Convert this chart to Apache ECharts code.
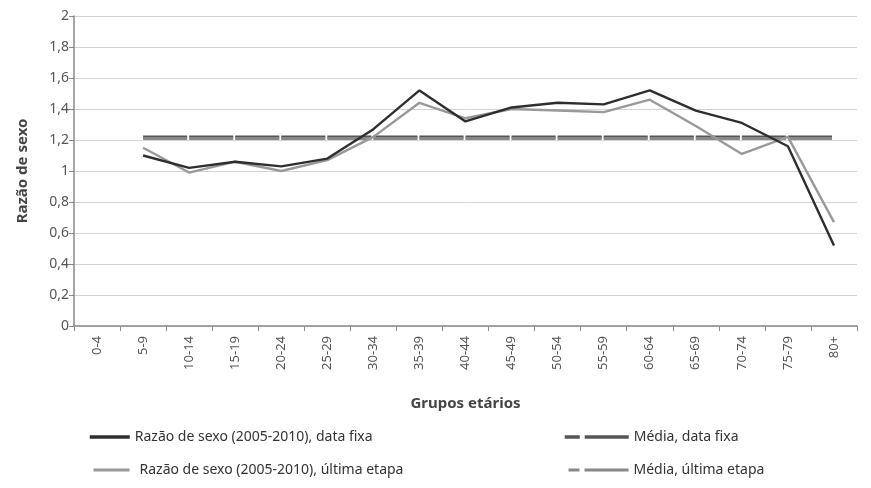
<!DOCTYPE html>
<html>
<head>
<meta charset="utf-8">
<script src="https://cdn.jsdelivr.net/npm/echarts@6/dist/echarts.min.js"></script>
<style>html,body{margin:0;padding:0;background:#fff}#c{width:871px;height:488px}</style>
</head>
<body>
<div id="c"></div>
<script>
var categories = ['0-4','5-9','10-14','15-19','20-24','25-29','30-34','35-39','40-44','45-49','50-54','55-59','60-64','65-69','70-74','75-79','80+'];
var razaoDataFixa = [null, 1.10, 1.02, 1.06, 1.03, 1.08, 1.27, 1.52, 1.32, 1.41, 1.44, 1.43, 1.52, 1.39, 1.31, 1.16, 0.52];
var razaoUltimaEtapa = [null, 1.15, 0.99, 1.06, 1.00, 1.07, 1.22, 1.44, 1.34, 1.40, 1.39, 1.38, 1.46, 1.29, 1.11, 1.22, 0.67];
var mediaDataFixa = [null, 1.22, 1.22, 1.22, 1.22, 1.22, 1.22, 1.22, 1.22, 1.22, 1.22, 1.22, 1.22, 1.22, 1.22, 1.22, 1.22];
var mediaUltimaEtapa = [null, 1.21, 1.21, 1.21, 1.21, 1.21, 1.21, 1.21, 1.21, 1.21, 1.21, 1.21, 1.21, 1.21, 1.21, 1.21, 1.21];
var yTicks = { min: 0, max: 2, interval: 0.2 };

var FONT = '"Noto Sans", "Open Sans", sans-serif';
var names = ['Razão de sexo (2005-2010), data fixa', 'Média, data fixa', 'Razão de sexo (2005-2010), última etapa', 'Média, última etapa'];

var chart = echarts.init(document.getElementById('c'), null, {renderer: 'canvas'});
var legText = {color: '#333', fontSize: 14, fontFamily: FONT};
var legBase = {padding: 0, itemHeight: 14, itemStyle: {opacity: 0, borderWidth: 0}, textStyle: legText};
function leg(extra) { return Object.assign({}, legBase, extra); }
chart.setOption({
  animation: false,
  backgroundColor: '#fff',
  grid: {left: 74, right: 14, top: 16, bottom: 162, containLabel: false},
  xAxis: {
    type: 'category',
    data: categories,
    boundaryGap: true,
    name: 'Grupos etários',
    nameLocation: 'middle',
    nameGap: 70,
    nameTextStyle: {fontFamily: FONT, fontSize: 15, fontWeight: 'bold', color: '#444'},
    axisLine: {lineStyle: {color: '#8a8a8a', width: 1.5}},
    axisTick: {show: true, length: 5, lineStyle: {color: '#8a8a8a'}},
    axisLabel: {rotate: 90, interval: 0, margin: 10, fontFamily: FONT, fontSize: 13, color: '#555'},
    splitLine: {show: false}
  },
  yAxis: {
    type: 'value',
    min: yTicks.min, max: yTicks.max, interval: yTicks.interval,
    name: 'Razão de sexo',
    nameLocation: 'middle',
    nameGap: 44,
    nameTextStyle: {fontFamily: FONT, fontSize: 15, fontWeight: 'bold', color: '#444'},
    axisLine: {show: true, lineStyle: {color: '#8a8a8a', width: 1.5}},
    axisTick: {show: true, length: 5, lineStyle: {color: '#8a8a8a'}},
    axisLabel: {margin: 5, fontFamily: FONT, fontSize: 14, color: '#555',
      formatter: function (v) { return String(Math.round(v * 10) / 10).replace('.', ','); }},
    splitLine: {lineStyle: {color: '#d4d4d4', width: 1}}
  },
  legend: [
    leg({data: [names[0]], left: 88, top: 430, itemWidth: 40, lineStyle: {width: 3.5}}),
    leg({data: [names[1]], left: 563, top: 430, itemWidth: 64, lineStyle: {width: 3.5, type: [15, 5, 44, 0]}}),
    leg({data: [names[2]], left: 92, top: 463, itemWidth: 36, lineStyle: {width: 3}, textStyle: Object.assign({padding: [0, 0, 0, 5]}, legText)}),
    leg({data: [names[3]], left: 567, top: 463, itemWidth: 60, lineStyle: {width: 3, type: [11, 5, 44, 0]}})
  ],
  series: [
    {name: names[1], type: 'line', data: mediaDataFixa, symbol: 'none', z: 2,
      lineStyle: {color: '#555555', width: 3, type: [44.06, 2]}, itemStyle: {color: '#555555'}},
    {name: names[3], type: 'line', data: mediaUltimaEtapa, symbol: 'none', z: 3,
      lineStyle: {color: '#888888', width: 3, type: [44.06, 2]}, itemStyle: {color: '#888888'}},
    {name: names[2], type: 'line', data: razaoUltimaEtapa, symbol: 'none', z: 4,
      lineStyle: {color: '#999999', width: 2.4}, itemStyle: {color: '#999999'}},
    {name: names[0], type: 'line', data: razaoDataFixa, symbol: 'none', z: 5,
      lineStyle: {color: '#2e2e2e', width: 2.4}, itemStyle: {color: '#2e2e2e'}}
  ]
});
</script>
</body>
</html>
